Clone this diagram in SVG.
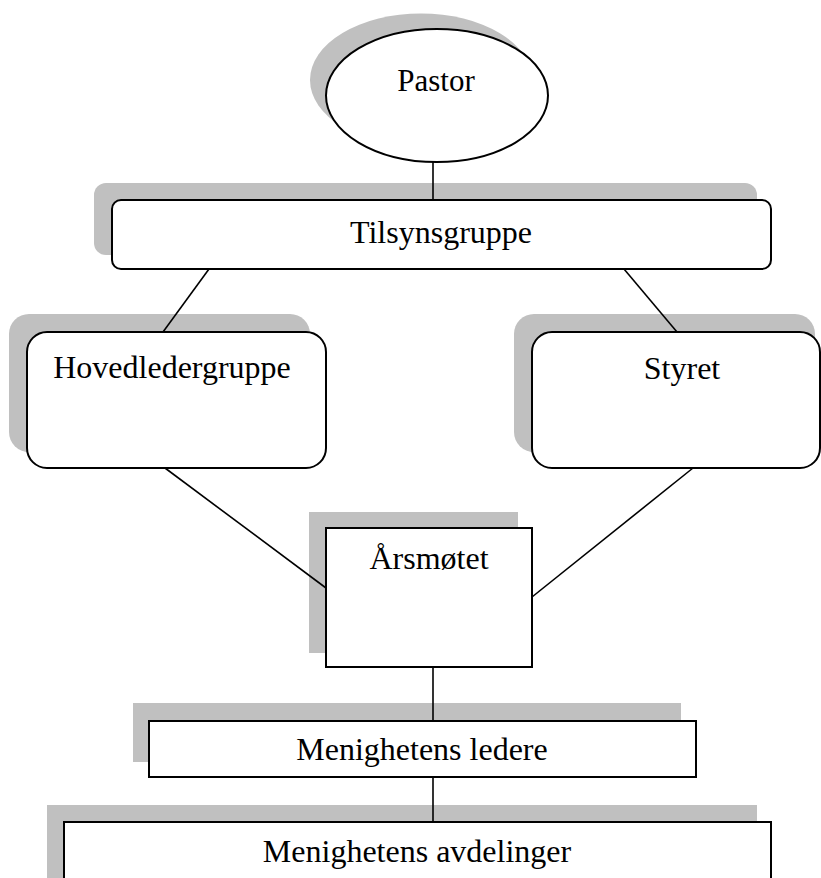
<svg xmlns="http://www.w3.org/2000/svg" width="821" height="878" viewBox="0 0 821 878">
<style>
.sh{fill:#c0c0c0;stroke:none}
.bx{fill:#fff;stroke:#000;stroke-width:2}
.t{font-family:"Liberation Serif","Times New Roman",serif;font-size:32px;fill:#000;text-anchor:middle}
.c{stroke:#000;stroke-width:1.6;fill:none}
</style>
<rect x="0" y="0" width="821" height="878" fill="#fff"/>
<g id="pastor">
<ellipse class="sh" cx="421" cy="80" rx="111" ry="66.5"/>
<ellipse class="bx" cx="437" cy="95.5" rx="111" ry="66.5"/>
<text class="t" x="436" y="91" style="font-size:31px">Pastor</text>
</g>
<g id="tilsynsgruppe">
<rect class="sh" x="94" y="183" width="663" height="72" rx="12"/>
<rect class="bx" x="112" y="200" width="659" height="69" rx="9"/>
<text class="t" x="441" y="243">Tilsynsgruppe</text>
</g>
<g id="hovedledergruppe">
<rect class="sh" x="9" y="314" width="301" height="138" rx="20"/>
<rect class="bx" x="27" y="332" width="299" height="136" rx="20"/>
<text class="t" x="172" y="378">Hovedledergruppe</text>
</g>
<g id="styret">
<rect class="sh" x="514" y="314" width="301" height="138" rx="20"/>
<rect class="bx" x="532" y="332" width="288" height="136" rx="20"/>
<text class="t" x="682" y="379">Styret</text>
</g>
<g id="arsmotet">
<rect class="sh" x="309" y="512" width="209" height="141"/>
<rect class="bx" x="326" y="528" width="206" height="139"/>
<text class="t" x="429" y="569">Årsmøtet</text>
</g>
<g id="menighetens-ledere">
<rect class="sh" x="133" y="703" width="548" height="59"/>
<rect class="bx" x="149" y="721" width="547" height="56"/>
<text class="t" x="422" y="760">Menighetens ledere</text>
</g>
<g id="menighetens-avdelinger">
<rect class="sh" x="47" y="805" width="710" height="80"/>
<rect class="bx" x="64" y="822" width="707" height="70"/>
<text class="t" x="417" y="862">Menighetens avdelinger</text>
</g>
<g id="connectors">
<line class="c" x1="433" y1="162" x2="433" y2="200"/>
<line class="c" x1="209" y1="269" x2="163" y2="332"/>
<line class="c" x1="624" y1="269" x2="677" y2="332"/>
<line class="c" x1="165" y1="468" x2="326" y2="588"/>
<line class="c" x1="693" y1="468" x2="532" y2="597"/>
<line class="c" x1="433" y1="667" x2="433" y2="721"/>
<line class="c" x1="433" y1="777" x2="433" y2="822"/>
</g>
</svg>
